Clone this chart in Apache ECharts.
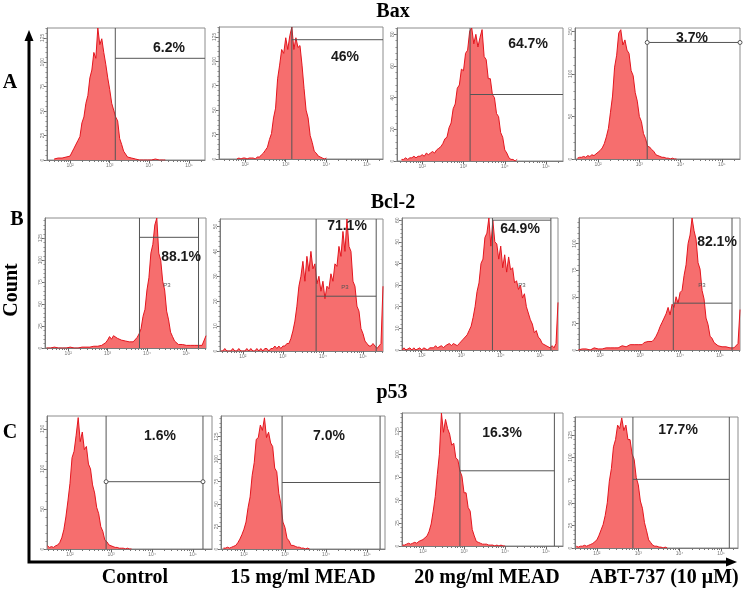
<!DOCTYPE html>
<html><head><meta charset="utf-8">
<script src="https://cdn.jsdelivr.net/npm/echarts@6/dist/echarts.min.js"></script>
<style>html,body{margin:0;padding:0;background:#fff}#c{width:745px;height:593px}</style>
</head><body><div id="c"></div>
<script>
// ---------------- data ----------------
const columns = ['Control', '15 mg/ml MEAD', '20 mg/ml MEAD', 'ABT-737 (10 \u03bcM)'];
const markers = ['Bax', 'Bcl-2', 'p53'];
const rowLetters = ['A', 'B', 'C'];
const percents = [['6.2%', '46%', '64.7%', '3.7%'], ['88.1%', '71.1%', '64.9%', '82.1%'], ['1.6%', '7.0%', '16.3%', '17.7%']];
const xTickValues = [2, 3, 4, 5];
const xTickLabels = ['10\u00b2', '10\u00b3', '10\u2074', '10\u2075'];
const binWidth = 0.05; // decades per histogram bin

// Bax
const baxControl = [1,0,2,1,2,1,3,2,4,6,12,10,20,24,38,44,58,66,84,92,110,104,135,118,124,110,98,84,72,58,60,44,40,22,16,9,7,3,4,2,2,1,1,0,1,0,1,0,1,0,0,1,0,0,1,0,0];
const bax15 = [0,1,0,1,1,0,1,1,1,0,2,2,4,6,9,12,20,26,42,52,82,96,112,108,124,112,126,135,112,124,114,116,96,72,50,42,24,17,8,6,3,2,1,0,1];
const bax20 = [1,1,2,1,2,2,3,2,3,3,4,3,5,4,5,6,5,7,8,9,11,14,15,21,24,33,36,46,48,58,57,68,70,82,84,74,80,72,78,83,66,64,52,52,42,40,30,28,18,15,7,5,2,1,1,0,1];
const baxAbt = [1,2,2,3,2,4,3,5,4,6,8,10,13,18,26,36,55,74,108,122,148,152,134,140,128,124,104,98,78,68,50,44,30,24,15,14,11,9,5,4,3,2,2,1,1,0,1,0,0];
// Bcl-2
const bclControl = [0,1,0,0,1,0,0,1,0,1,0,0,1,1,0,1,0,1,1,0,1,2,1,1,2,1,2,2,3,3,6,9,13,10,14,16,11,12,9,10,8,9,7,8,7,9,12,16,22,36,44,66,80,108,118,140,148,108,100,76,66,42,32,18,13,8,7,4,3,4,2,3,2,3,2,3,2,3,2,3,5,14];
const bcl15 = [0,0,1,0,0,0,1,0,0,1,0,0,0,1,0,1,0,0,1,0,1,0,1,1,0,1,1,2,1,2,1,2,2,3,3,5,8,12,18,26,30,36,28,38,32,40,33,35,27,30,24,28,21,26,25,31,28,35,34,42,38,48,40,53,42,40,28,26,18,16,9,7,4,3,2,2,3,2,1,2,3,26];
const bcl20 = [0,1,0,0,1,0,1,0,0,1,0,1,1,0,1,1,1,2,1,1,2,1,2,2,3,2,3,3,2,3,4,5,6,7,9,11,15,20,27,31,40,42,52,54,61,48,60,50,49,42,48,38,44,36,43,37,38,31,32,28,30,24,26,20,20,14,12,8,9,6,5,3,3,2,2,1,2,1,3,22];
const bclAbt = [0,1,1,0,1,1,0,1,2,1,1,2,1,2,2,1,2,3,2,3,2,3,4,3,3,4,5,4,5,4,5,6,5,7,6,8,9,8,10,13,17,22,26,30,34,40,33,43,40,50,44,54,56,70,80,100,108,124,112,104,82,76,56,48,30,24,13,11,7,6,4,4,3,2,3,2,2,1,2,1,6,38];
// p53
const p53Control = [4,2,3,2,4,5,8,14,24,40,60,82,114,122,142,164,134,146,124,128,106,100,80,70,52,44,28,22,11,9,5,4,3,2,2,1,1,1,0,1,0,0];
const p5315 = [1,1,2,1,2,3,4,7,11,16,22,30,46,58,82,96,122,124,138,132,146,124,130,118,114,90,86,62,50,30,24,12,9,4,4,3,2,2,1,1,0,1,0];
const p5320 = [1,1,2,3,2,3,4,3,5,6,7,9,11,16,24,38,54,78,100,145,124,138,128,122,110,112,96,94,82,76,58,58,42,38,18,11,5,4,3,2,2,2,1,1,1,0,1,0,1,0,0];
const p53Abt = [2,1,2,2,3,2,3,4,5,7,9,14,20,26,36,50,74,88,112,120,136,132,144,130,136,120,120,104,98,78,70,52,44,28,19,9,6,3,2,2,1,1,0,1,0];

const histograms = [[baxControl, bax15, bax20, baxAbt], [bclControl, bcl15, bcl20, bclAbt], [p53Control, p5315, p5320, p53Abt]];
const histStarts = [[1.6, 1.8, 1.5, 1.5], [1.45, 1.45, 1.5, 1.45], [1.45, 1.5, 1.5, 1.5]];
const gateLow = [[3.14, 3.15, 3.16, 3.19], [3.81, 3.83, 3.79, 3.83], [2.88, 2.93, 2.9, 2.87]];
const gateHigh = [[null, null, null, null], [5.31, 5.33, 5.27, 5.3], [5.24, 5.32, 5.2, 5.2]];
const gateLevel = [[104, 122, 42, 137], [126, 22, 60, 44], [84, 74, 82, 76]];
const yMax = [[135, 135, 84, 154], [148, 53, 61, 124], [166, 148, 145, 145]];
const yTickValues = [
  [[0,25,50,75,100,125], [0,25,50,75,100,125], [0,20,40,60,80], [0,50,100,150]],
  [[0,25,50,75,100,125], [0,10,20,30,40,50], [0,10,20,30,40,50,60], [0,25,50,75,100]],
  [[0,50,100,150], [0,25,50,75,100,125], [0,25,50,75,100,125], [0,25,50,75,100,125]]
];

// ---------------- layout ----------------
const panelBoxes = [
  [[47,28,158,132], [219,27,164,132], [397,28,166,133], [575,28,165,131]],
  [[45,218,161,130], [220,219,163,132], [402,218,156,132], [579,218,161,132]],
  [[47,416,165,133], [221,416,164,133], [402,413,161,133], [575,417,163,131]]
];
const xRanges = [
  [[1.42,5.4], [1.36,5.39], [1.39,5.41], [1.44,5.44]],
  [[1.41,5.5], [1.43,5.5], [1.5,5.45], [1.47,5.5]],
  [[1.44,5.46], [1.44,5.44], [1.49,5.41], [1.47,5.41]]
];
const percentPos = [[[169,48],[345,57],[528,44],[692,38]], [[181,257],[347,226],[520,229],[717,242]], [[160,436],[329,436],[502,433],[678,430]]];
const p3Pos = [[167,285],[345,287],[522,285],[702,285]];
const gateCircles = [[false,false,false,true],[false,false,false,false],[true,false,false,false]];
const titlePos = [[393,12],[393,203],[392,393]];
const letterPos = [[10,83],[17,220],[10,433]];
const columnX = [135, 303, 487, 664];

const serif = '"Liberation Serif", "Times New Roman", serif';
const sans = '"Liberation Sans", Arial, sans-serif';
const frameColor = '#8c8c8c';
const gateColor = '#555';

const grids = [], xAxes = [], yAxes = [], series = [], graphics = [];

function minorX(lo, hi) {
  const out = [];
  for (let n = 1; n <= 5; n++) for (let k = 2; k <= 9; k++) {
    const v = n + Math.log10(k);
    if (v > lo && v < hi) out.push(v);
  }
  return out;
}

let g = 0;
for (let r = 0; r < 3; r++) {
  for (let c = 0; c < 4; c++) {
    const [L, T, W, H] = panelBoxes[r][c];
    const [xmin, xmax] = xRanges[r][c];
    const ym = yMax[r][c];
    const yt = yTickValues[r][c];
    grids.push({left: L, top: T, width: W, height: H, show: true, borderColor: frameColor, borderWidth: 1, backgroundColor: '#fff'});
    const axisLine = {show: true, onZero: false, lineStyle: {color: '#7a7a7a', width: 1}};
    xAxes.push({
      gridIndex: g, type: 'value', min: xmin, max: xmax, position: 'bottom',
      axisLine: axisLine, splitLine: {show: false},
      axisTick: {show: true, inside: false, length: 3, customValues: xTickValues, lineStyle: {color: '#666'}},
      axisLabel: {show: true, customValues: xTickValues, formatter: v => xTickLabels[xTickValues.indexOf(Math.round(v))] || '', fontSize: 5, color: '#777', margin: 3, fontFamily: sans}
    });
    xAxes.push({
      gridIndex: g, type: 'value', min: xmin, max: xmax, position: 'bottom',
      axisLine: {show: false, onZero: false}, splitLine: {show: false},
      axisTick: {show: true, inside: false, length: 2, customValues: minorX(xmin, xmax), lineStyle: {color: '#777'}},
      axisLabel: {show: false}
    });
    const step = (yt[1] - yt[0]) / 5;
    const ym2 = [];
    for (let v = 0; v <= ym; v += step) ym2.push(v);
    yAxes.push({
      gridIndex: g, type: 'value', min: 0, max: ym, position: 'left',
      axisLine: axisLine, splitLine: {show: false},
      axisTick: {show: true, inside: false, length: 3, customValues: yt, lineStyle: {color: '#666'}},
      axisLabel: {show: true, customValues: yt, rotate: 90, fontSize: 5, color: '#777', margin: 2, fontFamily: sans}
    });
    yAxes.push({
      gridIndex: g, type: 'value', min: 0, max: ym, position: 'left',
      axisLine: {show: false, onZero: false}, splitLine: {show: false},
      axisTick: {show: true, inside: false, length: 1.5, customValues: ym2, lineStyle: {color: '#888'}},
      axisLabel: {show: false}
    });

    const counts = histograms[r][c];
    const start = histStarts[r][c];
    const pts = counts.map((v, i) => [start + i * binWidth, v]);
    series.push({
      type: 'line', xAxisIndex: 2 * g, yAxisIndex: 2 * g, data: pts,
      showSymbol: false, symbol: 'none', z: 2,
      lineStyle: {color: '#e3161f', width: 1},
      areaStyle: {color: '#f66e6e', opacity: 1},
      silent: true
    });
    const lo = gateLow[r][c], hi = gateHigh[r][c], lev = gateLevel[r][c];
    const gl = {type: 'line', xAxisIndex: 2 * g, yAxisIndex: 2 * g, z: 4, silent: true,
      lineStyle: {color: gateColor, width: 1}, symbol: 'none', showSymbol: false};
    series.push(Object.assign({}, gl, {data: [[lo, 0], [lo, ym]]}));
    if (hi !== null) series.push(Object.assign({}, gl, {data: [[hi, 0], [hi, ym]]}));
    const circ = gateCircles[r][c];
    series.push(Object.assign({}, gl, {
      data: [[lo, lev], [hi !== null ? hi : xmax, lev]],
      symbol: circ ? 'circle' : 'none', showSymbol: circ, symbolSize: 4,
      itemStyle: {color: '#fff', borderColor: gateColor, borderWidth: 1}
    }));

    graphics.push({type: 'text', x: percentPos[r][c][0], y: percentPos[r][c][1], z: 100,
      style: {text: percents[r][c], font: 'bold 14px ' + sans, fill: '#1a1a1a', textAlign: 'center', textVerticalAlign: 'middle'}});
    if (r === 1) {
      graphics.push({type: 'text', x: p3Pos[c][0], y: p3Pos[c][1], z: 100,
        style: {text: 'P3', font: '6px ' + sans, fill: '#555', textAlign: 'center', textVerticalAlign: 'middle'}});
    }
    g++;
  }
  graphics.push({type: 'text', x: titlePos[r][0], y: titlePos[r][1], z: 100,
    style: {text: markers[r], font: 'bold 20px ' + serif, fill: '#000', textAlign: 'center', textVerticalAlign: 'middle'}});
  graphics.push({type: 'text', x: letterPos[r][0], y: letterPos[r][1], z: 100,
    style: {text: rowLetters[r], font: 'bold 20px ' + serif, fill: '#000', textAlign: 'center', textVerticalAlign: 'middle'}});
}
columns.forEach((t, i) => {
  graphics.push({type: 'text', x: columnX[i], y: 578, z: 100,
    style: {text: t, font: 'bold 20px ' + serif, fill: '#000', textAlign: 'center', textVerticalAlign: 'middle'}});
});
graphics.push({type: 'text', x: 12, y: 290, rotation: Math.PI / 2, z: 100,
  style: {text: 'Count', font: 'bold 20px ' + serif, fill: '#000', textAlign: 'center', textVerticalAlign: 'middle'}});
// big arrows
graphics.push({type: 'polyline', z: 90, shape: {points: [[29, 40], [29, 562], [727, 562]]}, style: {stroke: '#000', lineWidth: 3, fill: null}});
graphics.push({type: 'polygon', z: 90, shape: {points: [[29, 30], [24.5, 41], [33.5, 41]]}, style: {fill: '#000'}});
graphics.push({type: 'polygon', z: 90, shape: {points: [[737, 562], [726, 557.5], [726, 566.5]]}, style: {fill: '#000'}});

const chart = echarts.init(document.getElementById('c'), null, {renderer: 'canvas'});
chart.setOption({
  animation: false,
  backgroundColor: '#fff',
  grid: grids, xAxis: xAxes, yAxis: yAxes, series: series, graphic: graphics
});
</script></body></html>
